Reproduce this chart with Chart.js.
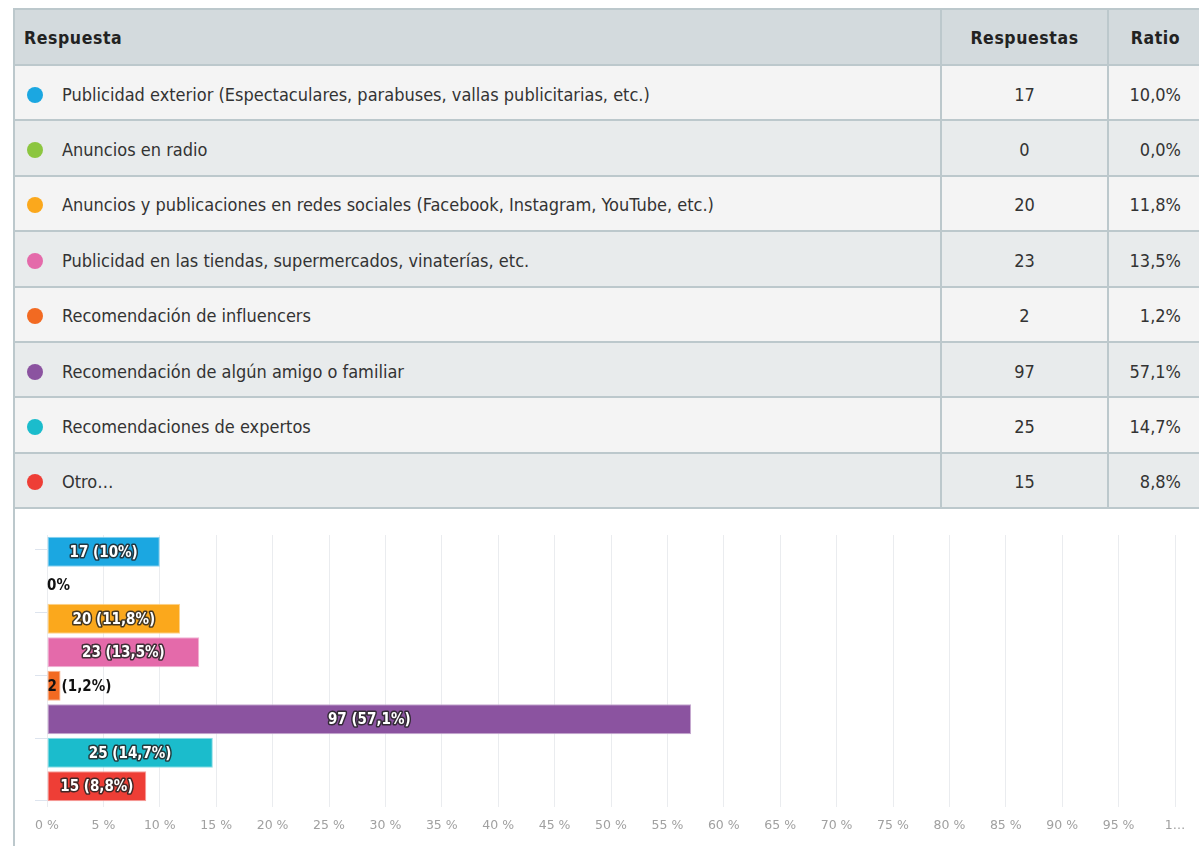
<!DOCTYPE html>
<html lang="es">
<head>
    <meta charset="UTF-8">
    <title>Respuestas</title>
    <script src="https://cdn.jsdelivr.net/npm/chart.js"></script>
    <style>
        body { margin: 0; background: #fff; font-family: "DejaVu Sans Condensed", sans-serif; color: #333; }
        .wrap { position: absolute; left: 13px; top: 8px; width: 1200px; border-left: 2px solid #bcc8cc; }
        table { border-collapse: collapse; table-layout: fixed; width: 1186px; }
        th, td { border: 2px solid #bcc8cc; font-size: 18px; padding: 0 9px; box-sizing: border-box; }
        th { background: #d3dadd; height: 56px; font-weight: bold; letter-spacing: 0.6px; color: #222; font-size: 17.5px; padding-top: 2px; }
        tr.r1 td { background: #f4f4f4; height: 55.4px; padding-top: 3px; }
        tr.r2 td { background: #e8ebec; height: 55.4px; padding-top: 3px; }
        th:first-child, td:first-child { border-left: none; text-align: left; }
        .dot { display: inline-block; width: 16px; height: 16px; border-radius: 50%; vertical-align: -2px; margin: 0 19px 0 3px; }
        .c2 { text-align: center; }
        .c3 { text-align: right; padding-right: 19px; }
        th.c3 { text-align: center; padding-right: 7px; }
        .chartBox { position: relative; width: 1184px; height: 338px; }
    </style>
</head>
<body>
<div class="wrap">
    <table id="tbl">
        <colgroup><col style="width:926px"><col style="width:167px"><col style="width:93px"></colgroup>
        <thead><tr><th>Respuesta</th><th class="c2">Respuestas</th><th class="c3">Ratio</th></tr></thead>
        <tbody></tbody>
    </table>
    <div class="chartBox"><canvas id="chart"></canvas></div>
</div>

<script>
    const categories = [
        'Publicidad exterior (Espectaculares, parabuses, vallas publicitarias, etc.)',
        'Anuncios en radio',
        'Anuncios y publicaciones en redes sociales (Facebook, Instagram, YouTube, etc.)',
        'Publicidad en las tiendas, supermercados, vinaterías, etc.',
        'Recomendación de influencers',
        'Recomendación de algún amigo o familiar',
        'Recomendaciones de expertos',
        'Otro...'
    ];
    const counts = [17, 0, 20, 23, 2, 97, 25, 15];
    const ratios = [10.0, 0.0, 11.8, 13.5, 1.2, 57.1, 14.7, 8.8];
    const colors = ['#1ba7e1', '#8cc640', '#fba81c', '#e46aaa', '#f26a22', '#8b53a0', '#1bbccc', '#ee3e36'];
    const borders = ['#8fd3f0', '#c5e29f', '#fdd38d', '#f1b4d4', '#f8b490', '#c5a9cf', '#8ddde5', '#f69e9a'];

    // tabla
    const tbody = document.querySelector('#tbl tbody');
    categories.forEach((c, i) => {
        const tr = document.createElement('tr');
        tr.className = i % 2 === 0 ? 'r1' : 'r2';
        tr.innerHTML = '<td><span class="dot" style="background:' + colors[i] + '"></span>' + c.replace('...', '…') + '</td>' +
            '<td class="c2">' + counts[i] + '</td>' +
            '<td class="c3">' + ratios[i].toFixed(1).replace('.', ',') + '%</td>';
        tbody.appendChild(tr);
    });

    // etiquetas sobre las barras
    const barLabels = {
        id: 'barLabels',
        afterDatasetsDraw(chart) {
            const ctx = chart.ctx;
            const meta = chart.getDatasetMeta(0);
            ctx.save();
            ctx.font = 'bold 15px "DejaVu Sans Condensed"';
            ctx.textBaseline = 'middle';
            meta.data.forEach((bar, i) => {
                const text = counts[i] === 0 ? '0%' : counts[i] + ' (' + String(ratios[i]).replace('.', ',') + '%)';
                const w = ctx.measureText(text).width;
                const barW = bar.x - bar.base;
                if (w + 8 < barW) {
                    ctx.textAlign = 'center';
                    ctx.lineWidth = 3;
                    ctx.lineJoin = 'round';
                    ctx.strokeStyle = 'rgba(35,35,35,0.85)';
                    ctx.strokeText(text, (bar.x + bar.base) / 2, bar.y + 1);
                    ctx.fillStyle = '#fff';
                    ctx.fillText(text, (bar.x + bar.base) / 2, bar.y + 1);
                } else {
                    ctx.textAlign = 'left';
                    ctx.fillStyle = '#111';
                    ctx.fillText(text, bar.base, bar.y + 1);
                }
            });
            ctx.restore();
        }
    };

    new Chart(document.getElementById('chart'), {
        type: 'bar',
        data: {
            labels: categories,
            datasets: [{
                data: ratios,
                backgroundColor: colors,
                borderColor: borders,
                borderWidth: 1,
                borderSkipped: false,
                barPercentage: 0.9,
                categoryPercentage: 1
            }]
        },
        options: {
            indexAxis: 'y',
            responsive: true,
            maintainAspectRatio: false,
            animation: false,
            layout: { padding: { left: 20, right: 24, top: 26, bottom: 3 } },
            plugins: { legend: { display: false }, tooltip: { enabled: false } },
            scales: {
                x: {
                    min: 0,
                    max: 100,
                    ticks: {
                        stepSize: 5,
                        padding: 11,
                        color: '#a0a0a0',
                        font: { family: '"DejaVu Sans"', size: 12.5 },
                        maxRotation: 0,
                        autoSkip: false,
                        callback: v => v === 100 ? '1…' : v + ' %'
                    },
                    grid: { color: '#eaecef', tickLength: 4 },
                    border: { display: false }
                },
                y: { display: false },
                yt: {
                    type: 'linear',
                    position: 'left',
                    reverse: true,
                    min: -0.5,
                    max: 7.5,
                    ticks: { stepSize: 2.5, includeBounds: false, display: false },
                    grid: { drawOnChartArea: false, tickLength: 12, color: '#dde4ee' },
                    border: { display: false }
                }
            }
        },
        plugins: [barLabels]
    });
</script>
</body>
</html>
